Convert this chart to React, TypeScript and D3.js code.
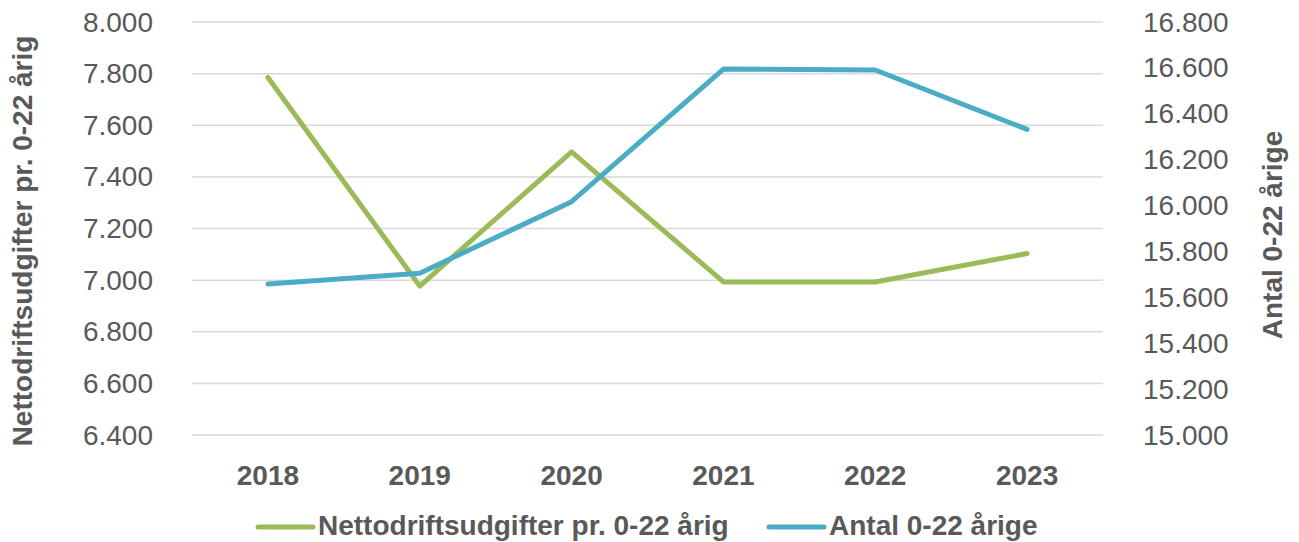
import React from 'react';
import * as d3 from 'd3';

// Chart data
const years = ['2018', '2019', '2020', '2021', '2022', '2023'];
const netto_values = [7785, 6977, 7497, 6993, 6993, 7103];
const antal_values = [15658, 15705, 16017, 16595, 16591, 16332];
const left_ticks = [6400, 6600, 6800, 7000, 7200, 7400, 7600, 7800, 8000];
const right_ticks = [15000, 15200, 15400, 15600, 15800, 16000, 16200, 16400, 16600, 16800];
const left_title = 'Nettodriftsudgifter pr. 0-22 årig';
const right_title = 'Antal 0-22 årige';

const GREEN = '#9bbb59';
const BLUE = '#4bacc6';
const TEXT = '#595959';
const FONT = '"Liberation Sans", Arial, sans-serif';

const da_format = d3.formatLocale({decimal: ',', thousands: '.', grouping: [3], currency: ['', '']}).format(',d');

export default function App() {
  const width = 1299;
  const height = 542;
  const plot = {left: 192, right: 1103, top: 22, bottom: 435};

  const x_scale = d3.scaleBand<string>().domain(years).range([plot.left, plot.right]).padding(0);
  const x_pos = (y: string) => (x_scale(y) ?? 0) + x_scale.bandwidth() / 2;

  const y_left = d3.scaleLinear().domain([6400, 8000]).range([plot.bottom, plot.top]);
  const y_right = d3.scaleLinear().domain([15000, 16800]).range([plot.bottom, plot.top]);

  const netto_line = d3.line<number>()
    .x((_, i) => x_pos(years[i]))
    .y((d) => y_left(d));
  const antal_line = d3.line<number>()
    .x((_, i) => x_pos(years[i]))
    .y((d) => y_right(d));

  // legend entries
  const legend = [
    {label: left_title, color: GREEN, x: 258},
    {label: right_title, color: BLUE, x: 769},
  ];

  return (
    <svg width={width} height={height} style={{position: 'absolute', left: 0, top: 0, background: '#fff'}}>
      {/* grid lines */}
      {left_ticks.map((t) => (
        <line key={'g' + t} x1={plot.left} x2={plot.right} y1={y_left(t)} y2={y_left(t)} stroke="#d9d9d9" strokeWidth={1.5} />
      ))}

      {/* left axis labels */}
      {left_ticks.map((t) => (
        <text key={'l' + t} x={153} y={y_left(t)} dominantBaseline="central" textAnchor="end"
          fontFamily={FONT} fontSize={28} fill={TEXT}>{da_format(t)}</text>
      ))}

      {/* right axis labels */}
      {right_ticks.map((t) => (
        <text key={'r' + t} x={1143} y={y_right(t)} dominantBaseline="central" textAnchor="start"
          fontFamily={FONT} fontSize={28} fill={TEXT}>{da_format(t)}</text>
      ))}

      {/* x axis labels */}
      {years.map((y) => (
        <text key={'x' + y} x={x_pos(y)} y={485} textAnchor="middle"
          fontFamily={FONT} fontSize={28} fontWeight="bold" fill={TEXT}>{y}</text>
      ))}

      {/* axis titles */}
      <text transform="translate(32,241) rotate(-90)" textAnchor="middle" fontFamily={FONT} fontSize={28}
        fontWeight="bold" fill={TEXT}>{left_title}</text>
      <text transform="translate(1282,235) rotate(-90)" textAnchor="middle" fontFamily={FONT} fontSize={28}
        fontWeight="bold" fill={TEXT}>{right_title}</text>

      {/* series */}
      <path d={netto_line(netto_values) ?? ''} fill="none" stroke={GREEN} strokeWidth={5}
        strokeLinecap="round" strokeLinejoin="round" />
      <path d={antal_line(antal_values) ?? ''} fill="none" stroke={BLUE} strokeWidth={5}
        strokeLinecap="round" strokeLinejoin="round" />

      {/* legend */}
      {legend.map((item) => (
        <g key={item.label}>
          <line x1={item.x} x2={item.x + 55} y1={527} y2={527} stroke={item.color} strokeWidth={5} strokeLinecap="round" />
          <text x={item.x + 60} y={535} fontFamily={FONT} fontSize={28}
            fontWeight="bold" fill={TEXT}>{item.label}</text>
        </g>
      ))}
    </svg>
  );
}
